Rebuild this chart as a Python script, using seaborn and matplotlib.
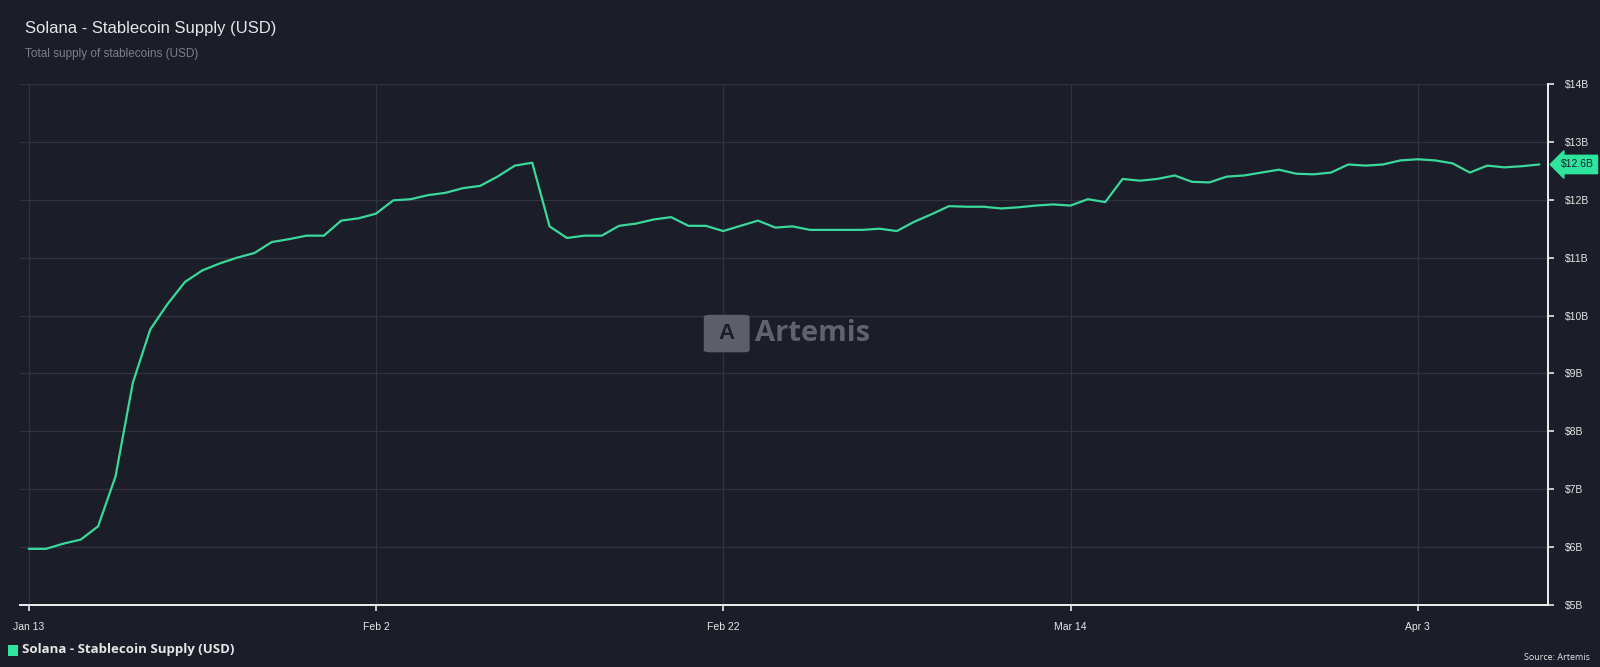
import matplotlib
matplotlib.use("Agg")
import matplotlib.pyplot as plt
from matplotlib.patches import FancyBboxPatch, Rectangle
import seaborn as sns
import pandas as pd

# daily supply in $B, Jan 13 -> Apr 10
supply_b = [
    5.97, 5.97, 6.06, 6.13, 6.36, 7.22, 8.84, 9.76, 10.20, 10.58,
    10.78, 10.90, 11.00, 11.08, 11.27, 11.32, 11.38, 11.38, 11.64, 11.68,
    11.76, 11.99, 12.01, 12.08, 12.12, 12.20, 12.24, 12.40, 12.59, 12.64,
    11.54, 11.34, 11.38, 11.38, 11.55, 11.59, 11.66, 11.70, 11.55, 11.55,
    11.46, 11.55, 11.64, 11.52, 11.54, 11.48, 11.48, 11.48, 11.48, 11.50,
    11.46, 11.62, 11.75, 11.89, 11.88, 11.88, 11.85, 11.87, 11.90, 11.92,
    11.90, 12.01, 11.96, 12.36, 12.33, 12.36, 12.42, 12.31, 12.30, 12.40,
    12.42, 12.47, 12.52, 12.45, 12.44, 12.47, 12.61, 12.59, 12.61, 12.68,
    12.70, 12.68, 12.63, 12.47, 12.59, 12.56, 12.58, 12.61,
]
start_date = "2025-01-13"
y_ticks = [5, 6, 7, 8, 9, 10, 11, 12, 13, 14]
x_ticks = ["2025-01-13", "2025-02-02", "2025-02-22", "2025-03-14", "2025-04-03"]

title = "Solana - Stablecoin Supply (USD)"
subtitle = "Total supply of stablecoins (USD)"
series_name = "Solana - Stablecoin Supply (USD)"
source = "Source: Artemis"

BG = "#1b1d28"
GRID = "#31343f"
LINE = "#3ad99a"
TEXT = "#e6e6e6"

df = pd.DataFrame({
    "date": pd.date_range(start_date, periods=len(supply_b), freq="D"),
    "supply": supply_b,
})

sns.set_theme(style="dark")
plt.rcParams["font.family"] = ["Liberation Sans", "DejaVu Sans"]

fig = plt.figure(figsize=(16, 6.67), dpi=100, facecolor=BG)
ax = fig.add_axes([20 / 1600, 1 - 605 / 667, 1528 / 1600, (605 - 84) / 667])
ax.set_facecolor(BG)

sns.lineplot(data=df, x="date", y="supply", ax=ax, color=LINE, linewidth=1.6, legend=False)

x0 = df["date"].iloc[0] - pd.Timedelta(hours=12)
x1 = df["date"].iloc[-1] + pd.Timedelta(hours=12)
ax.set_xlim(x0, x1)
ax.set_ylim(5, 14)

ax.yaxis.tick_right()
ax.set_yticks(y_ticks)
ax.set_yticklabels([f"${v}B" for v in y_ticks])
xt = pd.to_datetime(x_ticks)
ax.set_xticks(xt)
ax.set_xticklabels([f"{d:%b} {d.day}" for d in xt])

ax.grid(True, color=GRID, linewidth=0.9)
ax.tick_params(axis="both", colors=TEXT, labelsize=7.5, length=4, width=1.2,
               direction="out", pad=8, bottom=True, right=True, left=False)
for side in ["top", "left"]:
    ax.spines[side].set_visible(False)
for side in ["bottom", "right"]:
    ax.spines[side].set_color("#f0f0f0")
    ax.spines[side].set_linewidth(1.4)
ax.set_xlabel("")
ax.set_ylabel("")

# last value tag
last = supply_b[-1]
ax.annotate(f"${last:.1f}B", xy=(1.0, last), xycoords=("axes fraction", "data"),
            xytext=(9, 0), textcoords="offset points", va="center", ha="left",
            fontsize=7.5, color="#1b1d28",
            bbox=dict(boxstyle="larrow,pad=0.4", fc="#2ee59d", ec="#2ee59d"))

# watermark
ax.add_patch(FancyBboxPatch((0.4495, 0.487), 0.026, 0.068, transform=ax.transAxes,
                            boxstyle="round,pad=0.002,rounding_size=0.004",
                            fc="#5c5e69", ec="none", zorder=1))
ax.text(0.4625, 0.521, "A", transform=ax.transAxes, ha="center", va="center",
        fontsize=16, fontweight="bold", color="#1b1d28", zorder=2)
ax.text(0.481, 0.521, "Artemis", transform=ax.transAxes, ha="left", va="center",
        fontsize=21, fontweight="bold", color="#60626d", zorder=1,
        family=["Open Sans", "DejaVu Sans"])

fig.text(25 / 1600, 1 - 28 / 667, title, color=TEXT, fontsize=12, va="center", ha="left")
fig.text(25 / 1600, 1 - 54 / 667, subtitle, color="#7d7f88", fontsize=8.5, va="center", ha="left")

fig.patches.append(Rectangle((8 / 1600, 1 - 656 / 667), 10 / 1600, 11 / 667,
                             transform=fig.transFigure, fc="#2ee59d", ec="none"))
fig.text(22 / 1600, 1 - 650 / 667, series_name, color=TEXT, fontsize=9.5,
         fontweight="bold", va="center", ha="left", family=["Open Sans", "DejaVu Sans"])
fig.text(1590 / 1600, 1 - 662 / 667, source, color=TEXT, fontsize=6.5,
         va="bottom", ha="right", family=["Open Sans", "DejaVu Sans"])

fig.savefig("out.png", dpi=100, facecolor=BG)
